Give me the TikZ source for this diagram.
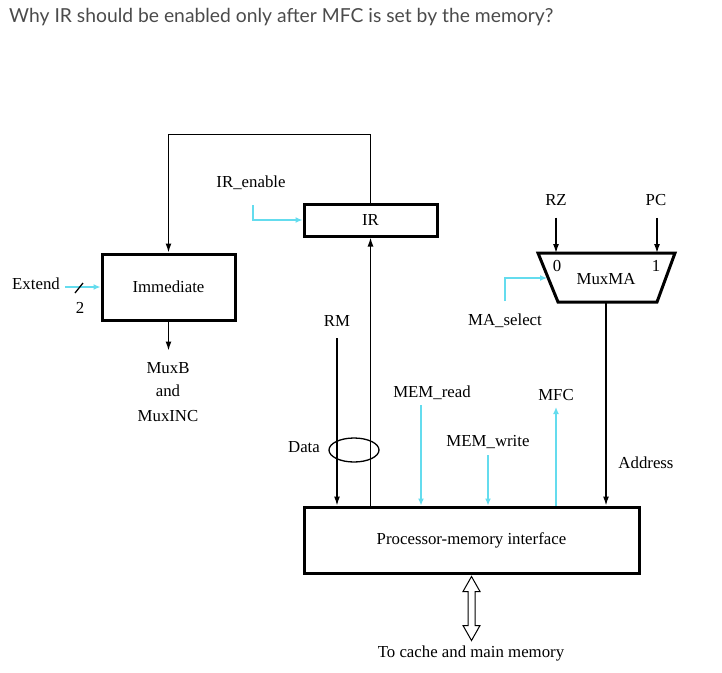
\documentclass[tikz,border=0pt]{standalone}
\usepackage{fontspec}
\setmainfont{Liberation Serif}
\newfontfamily\titlefont{Lato}
\usetikzlibrary{arrows.meta,calc,shapes.geometric}
\definecolor{cy}{RGB}{100,220,238}
\definecolor{tgray}{RGB}{75,75,75}
\tikzset{
  box/.style={draw, line width=3pt, inner sep=0pt, font=\fontsize{16.8}{19}\selectfont},
  lbl/.style={inner sep=1pt, font=\fontsize{16.8}{19}\selectfont},
  wire/.style={line width=1.3pt},
  arr/.style={wire, -{Latex[length=9pt,width=6pt]}},
  carr/.style={cy, line width=1.3pt, -{Latex[length=7pt,width=6pt]}},
}
\begin{document}
\begin{tikzpicture}[x=1pt,y=-1pt]
\useasboundingbox (0,0) rectangle (722,672);
\node[anchor=west, inner sep=0pt, text=tgray, font=\titlefont\fontsize{19.3}{22}\selectfont] (title) at (9,17) {Why IR should be enabled only after MFC is set by the memory?};
% boxes
\node[box, minimum width=133, minimum height=32] (ir) at (370.5,220) {IR};
\node[box, minimum width=133, minimum height=66] (imm) at (168.5,287) {Immediate};
\node[box, minimum width=335, minimum height=66] (pmi) at (471.5,540) {Processor-memory interface};
% MuxMA
\coordinate (mtl) at (538,253);
\coordinate (mtr) at (675,253);
\coordinate (mbr) at (657,302);
\coordinate (mbl) at (558,302);
\draw[line width=3pt, line join=miter] (mtl) -- (mtr) -- (mbr) -- (mbl) -- cycle;
\node[lbl] (mux) at (606,279) {MuxMA};
\node[lbl] (in0) at (557,266) {0};
\node[lbl] (in1) at (656,266) {1};
\coordinate (m0) at (556,253);
\coordinate (m1) at (657,253);
\coordinate (mbot) at (606,302);
\coordinate (msin) at (547,278);
% labels
\node[lbl] (iren) at (251,183) {IR\_enable};
\node[lbl] (ext) at (36,284) {Extend};
\node[lbl] (two) at (80,308) {2};
\node[lbl] (muxb) at (168,368) {MuxB};
\node[lbl] (and) at (168,391) {and};
\node[lbl] (muxinc) at (168,416) {MuxINC};
\node[lbl] (rz) at (556,200) {RZ};
\node[lbl] (pc) at (656,200) {PC};
\node[lbl] (masel) at (505,321) {MA\_select};
\node[lbl] (rm) at (337,321) {RM};
\node[lbl] (data) at (304,447) {Data};
\node[lbl] (memr) at (432,393) {MEM\_read};
\node[lbl] (memw) at (488,442) {MEM\_write};
\node[lbl] (mfc) at (556,395) {MFC};
\node[lbl] (addr) at (646,463) {Address};
\node[lbl] (cache) at (471,653) {To cache and main memory};
\node[draw, wire, ellipse, minimum width=50, minimum height=24, inner sep=0pt] (ell) at (354,450) {};
% free-end coordinates
\coordinate (irenS) at (253,205);
\coordinate (maselS) at (505,301);
\coordinate (rmS) at (337,338);
\coordinate (memrS) at (421,405);
\coordinate (memwS) at (488,455);
\coordinate (mfcT) at (556,407);
\coordinate (sl) at (79,288);
% connectors
\draw[arr] (ir.north) -- ++(0,-68) -| (imm.north);
\draw[carr] (irenS) |- (ir.west);
\draw[carr] (ext.east |- imm.west) ++(4,0) -- (imm.west);
\draw[wire] ($(sl)+(-4,5)$) -- ($(sl)+(4,-5)$);
\draw[arr] (imm.south) -- ++(0,29);
\draw[arr] (rz.south) ++(0,11) -- (m0);
\draw[arr] (pc.south) ++(1,11) -- (m1);
\draw[carr] (maselS) |- (msin);
\draw[arr] (mbot) -- (mbot |- pmi.north);
\draw[arr] (rmS) -- (rmS |- pmi.north);
\draw[arr] (ir.south |- pmi.north) -- (ir.south);
\draw[carr] (memrS) -- (memrS |- pmi.north);
\draw[carr] (memwS) -- (memwS |- pmi.north);
\draw[carr] (mfcT |- pmi.north) -- (mfcT);
% double arrow
\coordinate (dt) at ($(pmi.south)+(0,2)$);
\draw[line width=1pt, line join=miter] (dt) -- ++(8.5,15) -- ++(-5,0) -- ++(0,34) -- ++(5,0) -- ++(-8.5,15) -- ++(-8.5,-15) -- ++(5,0) -- ++(0,-34) -- ++(-5,0) -- cycle;
\end{tikzpicture}
\end{document}
